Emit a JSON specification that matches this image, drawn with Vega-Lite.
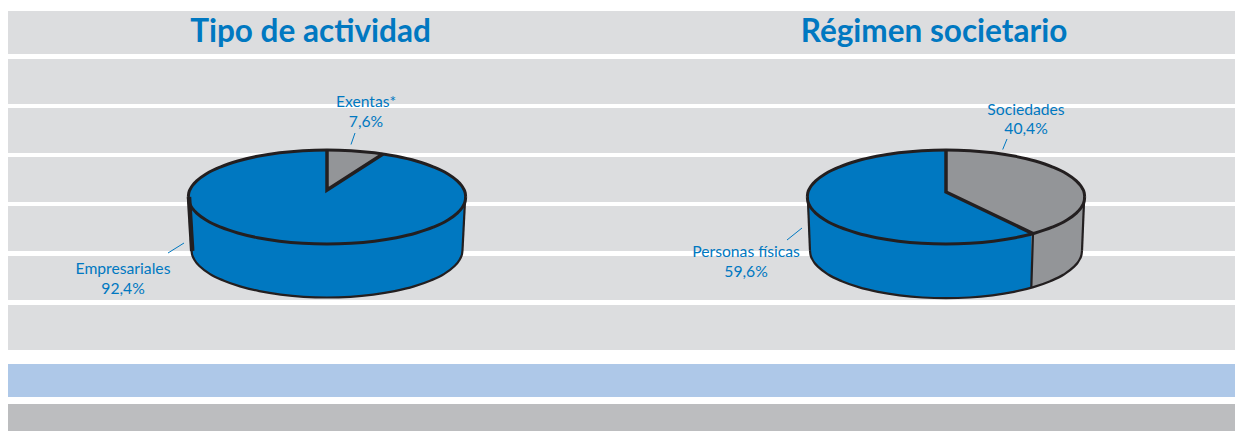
{"$schema":"https://vega.github.io/schema/vega-lite/v6.json","width":1235,"height":431,"padding":0,"autosize":{"type":"fit","contains":"padding"},"background":"#ffffff","view":{"stroke":null},
"datasets":{
"top":[{"pie":"a","x":188.3,"y":197,"y2":197},{"pie":"a","x":188.8,"y":192.9,"y2":201.1},{"pie":"a","x":190.4,"y":188.8,"y2":205.2},{"pie":"a","x":193,"y":184.8,"y2":209.2},{"pie":"a","x":196.7,"y":180.9,"y2":213.1},{"pie":"a","x":206.9,"y":173.5,"y2":220.5},{"pie":"a","x":220.8,"y":166.8,"y2":227.2},{"pie":"a","x":237.8,"y":161,"y2":233},{"pie":"a","x":257.6,"y":156.3,"y2":237.7},{"pie":"a","x":279.6,"y":152.8,"y2":241.2},{"pie":"a","x":302.9,"y":150.7,"y2":243.3},{"pie":"a","x":327,"y":150,"y2":244},{"pie":"a","x":351.1,"y":150.7,"y2":243.3},{"pie":"a","x":374.4,"y":152.8,"y2":241.2},{"pie":"a","x":396.4,"y":156.3,"y2":237.7},{"pie":"a","x":416.2,"y":161,"y2":233},{"pie":"a","x":433.2,"y":166.8,"y2":227.2},{"pie":"a","x":447.1,"y":173.5,"y2":220.5},{"pie":"a","x":457.3,"y":180.9,"y2":213.1},{"pie":"a","x":461,"y":184.8,"y2":209.2},{"pie":"a","x":463.6,"y":188.8,"y2":205.2},{"pie":"a","x":465.2,"y":192.9,"y2":201.1},{"pie":"a","x":465.7,"y":197,"y2":197},
{"pie":"b","x":807.3,"y":197,"y2":197},{"pie":"b","x":807.8,"y":192.9,"y2":201.1},{"pie":"b","x":809.4,"y":188.8,"y2":205.2},{"pie":"b","x":812,"y":184.8,"y2":209.2},{"pie":"b","x":815.7,"y":180.9,"y2":213.1},{"pie":"b","x":825.9,"y":173.5,"y2":220.5},{"pie":"b","x":839.8,"y":166.8,"y2":227.2},{"pie":"b","x":856.8,"y":161,"y2":233},{"pie":"b","x":876.6,"y":156.3,"y2":237.7},{"pie":"b","x":898.6,"y":152.8,"y2":241.2},{"pie":"b","x":921.9,"y":150.7,"y2":243.3},{"pie":"b","x":946,"y":150,"y2":244},{"pie":"b","x":970.1,"y":150.7,"y2":243.3},{"pie":"b","x":993.4,"y":152.8,"y2":241.2},{"pie":"b","x":1015.4,"y":156.3,"y2":237.7},{"pie":"b","x":1035.2,"y":161,"y2":233},{"pie":"b","x":1052.2,"y":166.8,"y2":227.2},{"pie":"b","x":1066.1,"y":173.5,"y2":220.5},{"pie":"b","x":1076.3,"y":180.9,"y2":213.1},{"pie":"b","x":1080,"y":184.8,"y2":209.2},{"pie":"b","x":1082.6,"y":188.8,"y2":205.2},{"pie":"b","x":1084.2,"y":192.9,"y2":201.1},{"pie":"b","x":1084.7,"y":197,"y2":197}],
"wall":[{"pie":"a","x":188.3,"y":197,"y2":197},{"pie":"a","x":191.5,"y":197,"y2":250},{"pie":"a","x":192,"y":197,"y2":254.1},{"pie":"a","x":193.6,"y":197,"y2":258.2},{"pie":"a","x":196.1,"y":197,"y2":262.3},{"pie":"a","x":199.7,"y":197,"y2":266.2},{"pie":"a","x":209.7,"y":197,"y2":273.8},{"pie":"a","x":223.3,"y":197,"y2":280.5},{"pie":"a","x":240,"y":197,"y2":286.4},{"pie":"a","x":259.3,"y":197,"y2":291.1},{"pie":"a","x":280.7,"y":197,"y2":294.6},{"pie":"a","x":303.5,"y":197,"y2":296.8},{"pie":"a","x":327,"y":197,"y2":297.5},{"pie":"a","x":350.5,"y":197,"y2":296.8},{"pie":"a","x":373.3,"y":197,"y2":294.6},{"pie":"a","x":394.7,"y":197,"y2":291.1},{"pie":"a","x":414,"y":197,"y2":286.4},{"pie":"a","x":430.7,"y":197,"y2":280.5},{"pie":"a","x":444.3,"y":197,"y2":273.8},{"pie":"a","x":454.3,"y":197,"y2":266.2},{"pie":"a","x":457.9,"y":197,"y2":262.3},{"pie":"a","x":460.4,"y":197,"y2":258.2},{"pie":"a","x":462,"y":197,"y2":254.1},{"pie":"a","x":462.5,"y":197,"y2":250},{"pie":"a","x":465.7,"y":197,"y2":197},
{"pie":"b","x":807.3,"y":197,"y2":197},{"pie":"b","x":810,"y":197,"y2":250.7},{"pie":"b","x":810.5,"y":197,"y2":254.8},{"pie":"b","x":812.1,"y":197,"y2":258.9},{"pie":"b","x":814.6,"y":197,"y2":263},{"pie":"b","x":818.2,"y":197,"y2":266.9},{"pie":"b","x":828.2,"y":197,"y2":274.5},{"pie":"b","x":841.8,"y":197,"y2":281.2},{"pie":"b","x":858.6,"y":197,"y2":287.1},{"pie":"b","x":878,"y":197,"y2":291.8},{"pie":"b","x":899.5,"y":197,"y2":295.3},{"pie":"b","x":922.4,"y":197,"y2":297.5},{"pie":"b","x":946,"y":197,"y2":298.2},{"pie":"b","x":969.6,"y":197,"y2":297.5},{"pie":"b","x":992.5,"y":197,"y2":295.3},{"pie":"b","x":1014,"y":197,"y2":291.8},{"pie":"b","x":1033.4,"y":197,"y2":287.1},{"pie":"b","x":1050.2,"y":197,"y2":281.2},{"pie":"b","x":1063.8,"y":197,"y2":274.5},{"pie":"b","x":1073.8,"y":197,"y2":266.9},{"pie":"b","x":1077.4,"y":197,"y2":263},{"pie":"b","x":1079.9,"y":197,"y2":258.9},{"pie":"b","x":1081.5,"y":197,"y2":254.8},{"pie":"b","x":1082,"y":197,"y2":250.7},{"pie":"b","x":1084.7,"y":197,"y2":197}]
},
"encoding":{"x":{"field":"x","type":"quantitative","scale":{"domain":[0,1235],"nice":false,"zero":false},"axis":null},"y":{"field":"y","type":"quantitative","scale":{"domain":[431,0],"nice":false,"zero":false},"axis":null}},
"layer":[
{"data":{"values":[{"band":"gris claro","x":8,"x2":1235,"y":11,"y2":54},{"band":"gris claro","x":8,"x2":1235,"y":59,"y2":104},{"band":"gris claro","x":8,"x2":1235,"y":108,"y2":153},{"band":"gris claro","x":8,"x2":1235,"y":157,"y2":202},{"band":"gris claro","x":8,"x2":1235,"y":206,"y2":251},{"band":"gris claro","x":8,"x2":1235,"y":256,"y2":300},{"band":"gris claro","x":8,"x2":1235,"y":305,"y2":350},{"band":"azul","x":8,"x2":1235,"y":364,"y2":397},{"band":"gris","x":8,"x2":1235,"y":404,"y2":431}]},
"mark":{"type":"rect"},"encoding":{"x2":{"field":"x2"},"y2":{"field":"y2"},"color":{"field":"band","type":"nominal","legend":null,"scale":{"domain":["gris claro","azul","gris"],"range":["#dcdddf","#aec8e8","#bcbdbf"]}}}},
{"data":{"name":"wall"},"mark":{"type":"area","color":"#0078c1","interpolate":"monotone"},"encoding":{"y2":{"field":"y2"},"detail":{"field":"pie"}}},
{"data":{"values":[{"x":1031.3,"y":197,"y2":287.5},{"x":1033.4,"y":197,"y2":287.1},{"x":1050.2,"y":197,"y2":281.2},{"x":1063.8,"y":197,"y2":274.5},{"x":1073.8,"y":197,"y2":266.9},{"x":1077.4,"y":197,"y2":263},{"x":1079.9,"y":197,"y2":258.9},{"x":1081.5,"y":197,"y2":254.8},{"x":1082,"y":197,"y2":250.7},{"x":1084.7,"y":197,"y2":197}]},"mark":{"type":"area","color":"#939598"},"encoding":{"y2":{"field":"y2"}}},
{"data":{"name":"top"},"mark":{"type":"area","color":"#0078c1","interpolate":"monotone"},"encoding":{"y2":{"field":"y2"},"detail":{"field":"pie"}}},
{"data":{"values":[{"pie":"a","x":327,"y":150,"y2":190},{"pie":"a","x":351.1,"y":150.7,"y2":174},{"pie":"a","x":374.4,"y":152.8,"y2":158.4},{"pie":"a","x":383,"y":154,"y2":154},
{"pie":"b","x":946,"y":150,"y2":192},{"pie":"b","x":970.1,"y":150.7,"y2":203.5},{"pie":"b","x":993.4,"y":152.8,"y2":214.7},{"pie":"b","x":1015.4,"y":156.3,"y2":225.2},{"pie":"b","x":1033,"y":160.4,"y2":233.6},{"pie":"b","x":1035.2,"y":161,"y2":233},{"pie":"b","x":1052.2,"y":166.8,"y2":227.2},{"pie":"b","x":1066.1,"y":173.5,"y2":220.5},{"pie":"b","x":1076.3,"y":180.9,"y2":213.1},{"pie":"b","x":1080,"y":184.8,"y2":209.2},{"pie":"b","x":1082.6,"y":188.8,"y2":205.2},{"pie":"b","x":1084.2,"y":192.9,"y2":201.1},{"pie":"b","x":1084.7,"y":197,"y2":197}]},"mark":{"type":"area","color":"#939598"},"encoding":{"y2":{"field":"y2"},"detail":{"field":"pie"}}},
{"data":{"name":"wall"},"mark":{"type":"line","color":"#231f20","strokeWidth":2.2,"interpolate":"monotone"},"transform":[{"filter":"datum.y2 > 200"}],"encoding":{"y":{"field":"y2","type":"quantitative"},"detail":{"field":"pie"}}},
{"data":{"values":[{"s":"a1","o":1,"x":465.2,"y":197},{"s":"a1","o":2,"x":462.5,"y":250},{"s":"b0","o":1,"x":807.8,"y":197},{"s":"b0","o":2,"x":810,"y":250.7},{"s":"b1","o":1,"x":1084.2,"y":197},{"s":"b1","o":2,"x":1082,"y":250.7},{"s":"b2","o":1,"x":1033,"y":233.6},{"s":"b2","o":2,"x":1031.3,"y":287.5}]},"mark":{"type":"line","color":"#231f20","strokeWidth":2.2},"encoding":{"detail":{"field":"s"},"order":{"field":"o"}}},
{"data":{"values":[{"s":"a0","o":1,"x":189,"y":197},{"s":"a0","o":2,"x":192.2,"y":251}]},"mark":{"type":"line","color":"#231f20","strokeWidth":4.5},"encoding":{"detail":{"field":"s"},"order":{"field":"o"}}},
{"data":{"name":"top"},"mark":{"type":"line","color":"#231f20","strokeWidth":3,"interpolate":"monotone"},"encoding":{"detail":{"field":"pie"}}},
{"data":{"name":"top"},"mark":{"type":"line","color":"#231f20","strokeWidth":3,"interpolate":"monotone"},"encoding":{"y":{"field":"y2","type":"quantitative"},"detail":{"field":"pie"}}},
{"data":{"values":[{"s":"a","o":1,"x":327,"y":150},{"s":"a","o":2,"x":327,"y":190},{"s":"a","o":3,"x":383,"y":154},{"s":"b","o":1,"x":946,"y":150},{"s":"b","o":2,"x":946,"y":192},{"s":"b","o":3,"x":1033,"y":233.6}]},"mark":{"type":"line","color":"#231f20","strokeWidth":3.5,"strokeJoin":"miter"},"encoding":{"detail":{"field":"s"},"order":{"field":"o"}}},
{"data":{"values":[{"s":"a","o":1,"x":355,"y":133},{"s":"a","o":2,"x":351,"y":144.5},{"s":"b","o":1,"x":184,"y":243},{"s":"b","o":2,"x":168,"y":253},{"s":"c","o":1,"x":1007,"y":139},{"s":"c","o":2,"x":1002.7,"y":149.5},{"s":"d","o":1,"x":802,"y":228},{"s":"d","o":2,"x":787,"y":240}]},"mark":{"type":"line","color":"#0078c1","strokeWidth":1},"encoding":{"detail":{"field":"s"},"order":{"field":"o"}}},
{"data":{"values":[{"t":"Tipo de actividad","x":310.5,"y":42},{"t":"Régimen societario","x":934,"y":42}]},"mark":{"type":"text","font":"Lato","fontWeight":"bold","fontSize":31.5,"limit":0,"color":"#0078c1","align":"center","baseline":"alphabetic"},"encoding":{"text":{"field":"t"}}},
{"data":{"values":[{"t":"Exentas*","x":366,"y":107},{"t":"7,6%","x":366,"y":127},{"t":"Empresariales","x":123,"y":274},{"t":"92,4%","x":123,"y":294},{"t":"Personas físicas","x":746,"y":257},{"t":"59,6%","x":746,"y":277},{"t":"Sociedades","x":1026,"y":115},{"t":"40,4%","x":1026,"y":134}]},"mark":{"type":"text","font":"Lato","fontSize":15.7,"color":"#0078c1","align":"center","baseline":"alphabetic"},"encoding":{"text":{"field":"t"}}}
]}
